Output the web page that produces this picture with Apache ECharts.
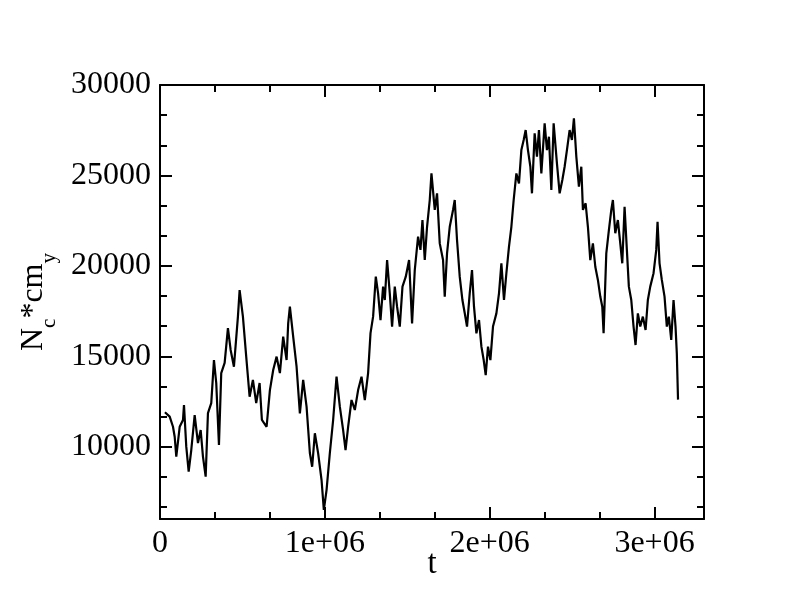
<!DOCTYPE html>
<html>
<head>
<meta charset="utf-8">
<script src="https://cdn.jsdelivr.net/npm/echarts@6/dist/echarts.min.js"></script>
<style>
html,body{margin:0;padding:0;background:#fff;}
#chart{width:792px;height:612px;}
</style>
</head>
<body>
<div id="chart"></div>
<script>
// ---- data ----
const tValues = [
  30000, 38000, 58800, 78800, 89100, 98800, 119400, 139400, 145500, 159400, 173900,
  189700, 210300, 230300, 246700, 260600, 277000, 290900, 310900, 327300, 341200,
  357600, 371500, 392100, 412100, 428500, 448500, 472700, 483000, 503000, 523000,
  543600, 563600, 583600, 604200, 618200, 646700, 666700, 686700, 707300, 727300,
  747300, 767900, 777600, 787900, 807900, 828500, 848500, 868500, 889100, 909100,
  923000, 939400, 959400, 980000, 993900, 1010300, 1030300, 1050300, 1070900, 1090900,
  1110900, 1125500, 1141200, 1161800, 1181800, 1201800, 1222400, 1242400, 1262400, 1277000,
  1292700, 1309100, 1323000, 1337600, 1353300, 1363600, 1377600, 1393900, 1407900, 1424200,
  1438200, 1454500, 1470900, 1490900, 1510900, 1529100, 1545500, 1565500, 1580000, 1592100,
  1606100, 1620000, 1636400, 1646700, 1666700, 1680600, 1697000, 1717000, 1727300, 1741200,
  1757600, 1777600, 1787900, 1801800, 1818200, 1834500, 1848500, 1862400, 1878800, 1892700,
  1904800, 1919400, 1935200, 1949700, 1963600, 1975800, 1989700, 2004200, 2020000, 2040600,
  2056400, 2070900, 2086700, 2101200, 2117000, 2131500, 2145400, 2161800, 2177600, 2192100,
  2206100, 2218200, 2232100, 2246700, 2256400, 2272700, 2286700, 2298800, 2313300, 2333300,
  2347300, 2359400, 2373900, 2387900, 2407900, 2424200, 2440600, 2454500, 2468500, 2484800,
  2498800, 2510900, 2525500, 2541200, 2555700, 2565500, 2581800, 2595800, 2610300, 2626100,
  2640600, 2656400, 2670900, 2683000, 2690900, 2707300, 2723000, 2737600, 2747300, 2761800,
  2777600, 2792100, 2804200, 2818200, 2832100, 2844200, 2858800, 2872700, 2884800, 2898800,
  2913300, 2929100, 2945500, 2959400, 2973900, 2993900, 3000000, 3010300, 3018200, 3030300,
  3044200, 3060600, 3074500, 3086700, 3101200, 3115200, 3127300, 3135100, 3142400
];
const ncCmY = [
  11900, 12000, 11660, 11100, 10550, 9450, 11100, 11475, 12300, 10000, 8620,
  9815, 11750, 10200, 10920, 9450, 8340, 11860, 12410, 14790, 13520,
  10090, 14070, 14630, 16560, 15350, 14420, 17190, 18660, 17190, 14980,
  12760, 13690, 12410, 13520, 11475, 11100, 13130, 14240, 14980, 14070,
  16080, 14790, 16820, 17740, 16080, 14420, 11840, 13690, 12210, 9650,
  8890, 10740, 9630, 8155, 6500, 7600, 9650, 11475, 13870, 12210,
  10920, 9815, 11100, 12580, 12030, 13130, 13870, 12580, 14070, 16280,
  17190, 19400, 18480, 17000, 18850, 18110, 20320, 18480, 16640, 18850,
  17740, 16640, 18850, 19400, 20320, 16820, 19770, 21610, 20880, 22530,
  20320, 22160, 23640, 25110, 23090, 24010, 21240, 20320, 18300, 20690,
  22160, 23090, 23640, 21430, 19400, 18110, 17390, 16640, 18480, 19770,
  17740, 16270, 17000, 15530, 14790, 13960, 15530, 14790, 16640, 17370,
  18480, 20140, 18110, 19590, 21060, 22160, 23640, 25110, 24560, 26400,
  26960, 27510, 26400, 25480, 24010, 27330, 26040, 27510, 25110, 27880,
  26400, 27140, 24190, 27880, 25670, 24010, 24750, 25480, 26400, 27510,
  26960, 28160, 26040, 24380, 25480, 23090, 23460, 22160, 20320, 21240,
  19950, 19220, 18300, 17740, 16270, 20690, 21980, 23090, 23640, 21800,
  22530, 21240, 20140, 23270, 20880, 18850, 18110, 16640, 15620, 17370,
  16640, 17190, 16450, 18110, 18850, 19590, 19590, 20880, 22440, 20140,
  19220, 18300, 16640, 17190, 15900, 18110, 16640, 15160, 12600
];
const xMajorTicks = [0, 1000000, 2000000, 3000000];
const xTickLabels = ['0', '1e+06', '2e+06', '3e+06'];
const xMinorTicks = [333333, 666667, 1333333, 1666667, 2333333, 2666667];
const yMajorTicks = [10000, 15000, 20000, 25000, 30000];
const yMinorTicks = [6667, 8333, 11667, 13333, 16667, 18333, 21667, 23333, 26667, 28333];
const xRange = [0, 3300000];
const yRange = [6000, 30000];

// ---- chart ----
const FONT = '"Liberation Serif", "Times New Roman", serif';
const seriesData = tValues.map((t, i) => [t, ncCmY[i]]);

function xAxisDef(position, ticks, len, showLine, showLabel) {
  return {
    type: 'value', position: position, min: xRange[0], max: xRange[1],
    axisLine: {show: showLine, onZero: false, lineStyle: {color: '#000', width: 2}},
    axisTick: {show: true, inside: true, length: len, customValues: ticks,
               lineStyle: {color: '#000', width: 2}},
    axisLabel: showLabel ? {
      show: true, customValues: xMajorTicks, margin: 9,
      color: '#000', fontFamily: FONT, fontSize: 32,
      formatter: v => xTickLabels[xMajorTicks.indexOf(v)]
    } : {show: false},
    splitLine: {show: false}
  };
}
function yAxisDef(position, ticks, len, showLine, showLabel) {
  return {
    type: 'value', position: position, min: yRange[0], max: yRange[1],
    axisLine: {show: showLine, onZero: false, lineStyle: {color: '#000', width: 2}},
    axisTick: {show: true, inside: true, length: len, customValues: ticks,
               lineStyle: {color: '#000', width: 2}},
    axisLabel: showLabel ? {
      show: true, customValues: yMajorTicks, margin: 9,
      color: '#000', fontFamily: FONT, fontSize: 32,
      formatter: v => String(v)
    } : {show: false},
    splitLine: {show: false}
  };
}

const xMain = xAxisDef('bottom', xMajorTicks, 12, true, true);
xMain.name = 't';
xMain.nameLocation = 'middle';
xMain.nameGap = 29;
xMain.nameMoveOverlap = false;
xMain.nameTextStyle = {color: '#000', fontFamily: FONT, fontSize: 33};

const yMain = yAxisDef('left', yMajorTicks, 12, true, true);
yMain.name = '{a|N}{b|c}{a|*cm}{b|y}';
yMain.nameLocation = 'middle';
yMain.nameRotate = 90;
yMain.nameGap = 80;
yMain.nameMoveOverlap = false;
yMain.nameTextStyle = {
  color: '#000', fontFamily: FONT,
  rich: {
    a: {color: '#000', fontFamily: FONT, fontSize: 32, lineHeight: 32, verticalAlign: 'top'},
    b: {color: '#000', fontFamily: FONT, fontSize: 21, lineHeight: 62}
  }
};

const chart = echarts.init(document.getElementById('chart'), null, {renderer: 'canvas'});
chart.setOption({
  animation: false,
  backgroundColor: '#fff',
  grid: {left: 160, right: 88, top: 85, bottom: 93, containLabel: false},
  xAxis: [
    xMain,
    xAxisDef('bottom', xMinorTicks, 7, false, false),
    xAxisDef('top', xMajorTicks, 12, true, false),
    xAxisDef('top', xMinorTicks, 7, false, false)
  ],
  yAxis: [
    yMain,
    yAxisDef('left', yMinorTicks, 7, false, false),
    yAxisDef('right', yMajorTicks, 12, true, false),
    yAxisDef('right', yMinorTicks, 7, false, false)
  ],
  series: [{
    type: 'line', xAxisIndex: 0, yAxisIndex: 0,
    data: seriesData, showSymbol: false, symbol: 'none',
    lineStyle: {color: '#000', width: 2.2},
    silent: true
  }]
});
</script>
</body>
</html>
